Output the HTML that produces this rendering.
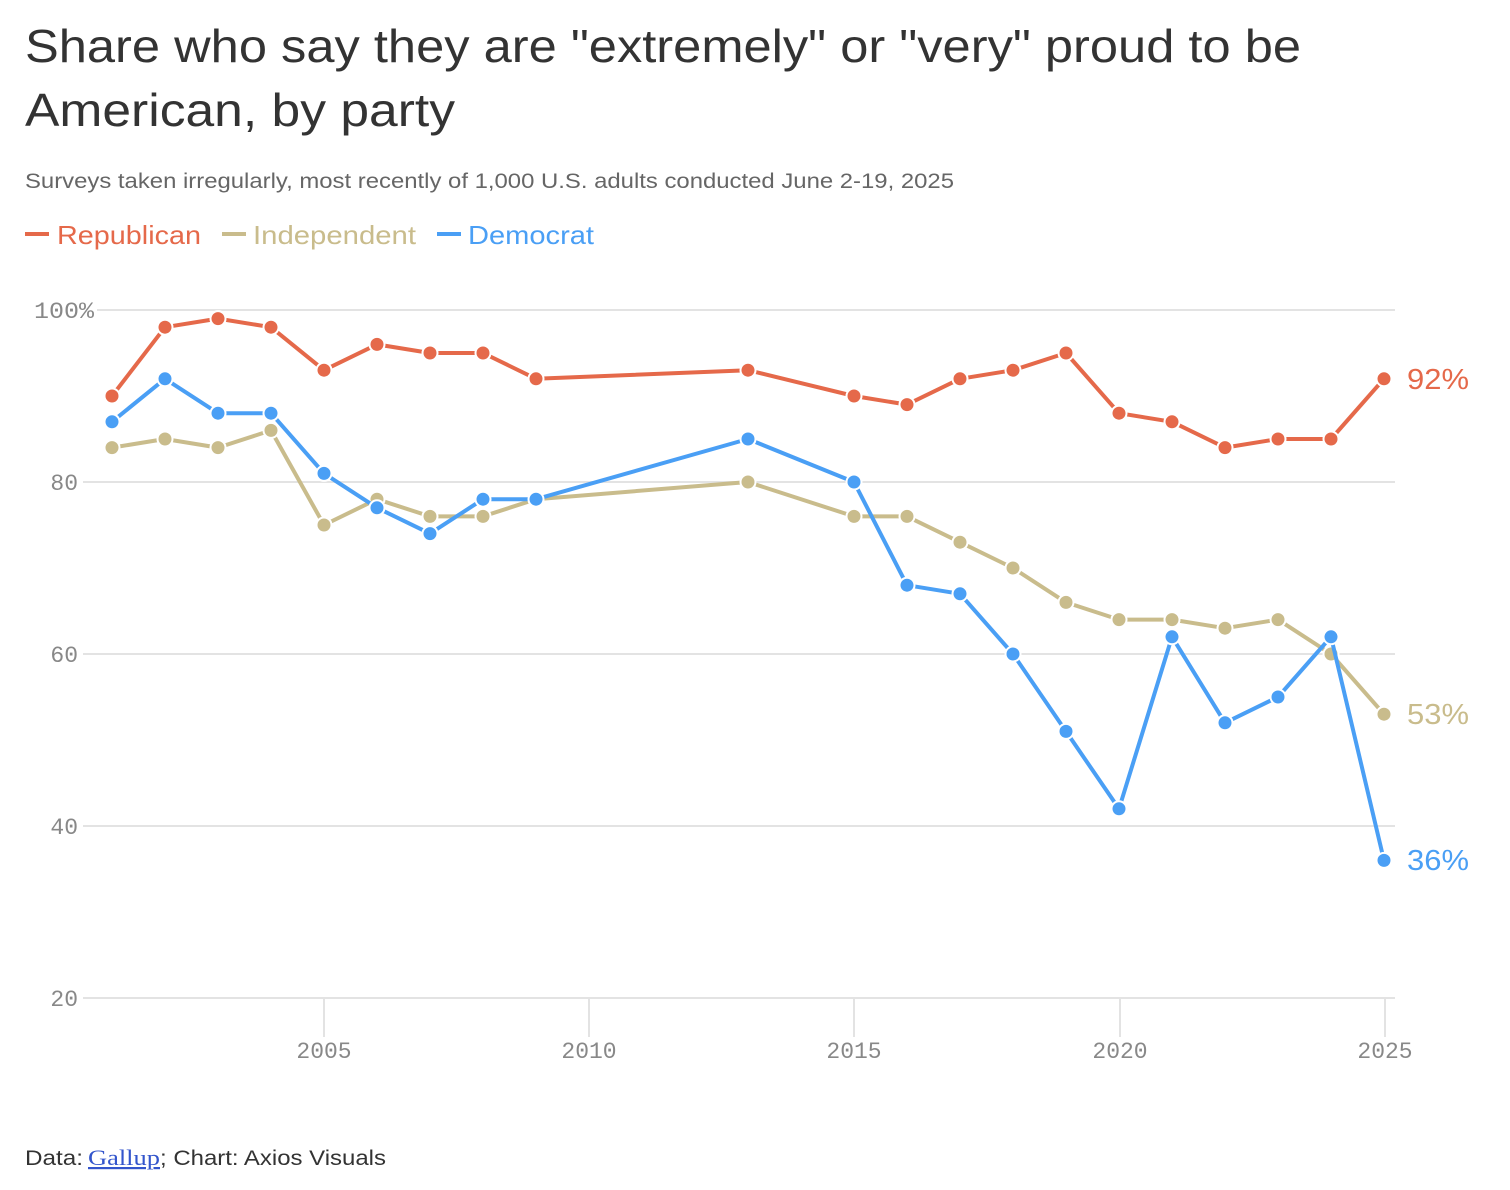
<!DOCTYPE html>
<html><head><meta charset="utf-8"><style>
html,body{margin:0;padding:0;background:#fff;}
svg{display:block;font-family:"Liberation Sans",sans-serif;}
.tk{font-family:"Liberation Mono",monospace;font-size:23px;fill:#888;}
</style></head><body>
<svg width="1510" height="1190" viewBox="0 0 1510 1190">
<text x="25" y="62" font-size="46" fill="#333" textLength="1276" lengthAdjust="spacingAndGlyphs">Share who say they are "extremely" or "very" proud to be</text>
<text x="25" y="126" font-size="46" fill="#333" textLength="430" lengthAdjust="spacingAndGlyphs">American, by party</text>
<text x="25" y="188" font-size="21" fill="#666" textLength="929" lengthAdjust="spacingAndGlyphs">Surveys taken irregularly, most recently of 1,000 U.S. adults conducted June 2-19, 2025</text>
<rect x="25" y="232" width="24" height="4" fill="#e5694a"/>
<text x="57" y="244" font-size="26" fill="#e5694a" textLength="144" lengthAdjust="spacingAndGlyphs">Republican</text>
<rect x="222" y="232" width="24" height="4" fill="#c9bc8c"/>
<text x="253" y="244" font-size="26" fill="#c9bc8c" textLength="163" lengthAdjust="spacingAndGlyphs">Independent</text>
<rect x="437" y="232" width="24" height="4" fill="#4a9ff5"/>
<text x="468" y="244" font-size="26" fill="#4a9ff5" textLength="126" lengthAdjust="spacingAndGlyphs">Democrat</text>

<g stroke="#e3e3e3" stroke-width="2">
<line x1="97" y1="310" x2="1395" y2="310"/>
<line x1="83" y1="482" x2="1395" y2="482"/>
<line x1="83" y1="654" x2="1395" y2="654"/>
<line x1="83" y1="826" x2="1395" y2="826"/>
<line x1="83" y1="998" x2="1395" y2="998"/>
<line x1="324" y1="998" x2="324" y2="1037"/>
<line x1="589" y1="998" x2="589" y2="1037"/>
<line x1="854" y1="998" x2="854" y2="1037"/>
<line x1="1120" y1="998" x2="1120" y2="1037"/>
<line x1="1385" y1="998" x2="1385" y2="1037"/>
</g>
<text class="tk" x="94" y="318" text-anchor="end" textLength="60" lengthAdjust="spacingAndGlyphs">100%</text>
<text class="tk" x="78" y="490" text-anchor="end">80</text>
<text class="tk" x="78" y="662" text-anchor="end">60</text>
<text class="tk" x="78" y="834" text-anchor="end">40</text>
<text class="tk" x="78" y="1006" text-anchor="end">20</text>
<text class="tk" x="324" y="1058" text-anchor="middle">2005</text>
<text class="tk" x="589" y="1058" text-anchor="middle">2010</text>
<text class="tk" x="854" y="1058" text-anchor="middle">2015</text>
<text class="tk" x="1120" y="1058" text-anchor="middle">2020</text>
<text class="tk" x="1385" y="1058" text-anchor="middle">2025</text>

<polyline fill="none" stroke-width="4" stroke-linejoin="round" stroke="#c9bc8c" points="112,447.6 165,439 218,447.6 271,430.4 324,525 377,499.2 430,516.4 483,516.4 536,499.2 748,482 854,516.4 907,516.4 960,542.2 1013,568 1066,602.4 1119,619.6 1172,619.6 1225,628.2 1278,619.6 1331,654 1384,714.2"/>
<g fill="#c9bc8c" stroke="#fff" stroke-width="2">
<circle cx="112" cy="447.6" r="7.5"/><circle cx="165" cy="439" r="7.5"/><circle cx="218" cy="447.6" r="7.5"/><circle cx="271" cy="430.4" r="7.5"/><circle cx="324" cy="525" r="7.5"/><circle cx="377" cy="499.2" r="7.5"/><circle cx="430" cy="516.4" r="7.5"/><circle cx="483" cy="516.4" r="7.5"/><circle cx="536" cy="499.2" r="7.5"/><circle cx="748" cy="482" r="7.5"/><circle cx="854" cy="516.4" r="7.5"/><circle cx="907" cy="516.4" r="7.5"/><circle cx="960" cy="542.2" r="7.5"/><circle cx="1013" cy="568" r="7.5"/><circle cx="1066" cy="602.4" r="7.5"/><circle cx="1119" cy="619.6" r="7.5"/><circle cx="1172" cy="619.6" r="7.5"/><circle cx="1225" cy="628.2" r="7.5"/><circle cx="1278" cy="619.6" r="7.5"/><circle cx="1331" cy="654" r="7.5"/><circle cx="1384" cy="714.2" r="7.5"/>
</g>
<polyline fill="none" stroke-width="4" stroke-linejoin="round" stroke="#4a9ff5" points="112,421.8 165,378.8 218,413.2 271,413.2 324,473.4 377,507.8 430,533.6 483,499.2 536,499.2 748,439 854,482 907,585.2 960,593.8 1013,654 1066,731.4 1119,808.8 1172,636.8 1225,722.8 1278,697 1331,636.8 1384,860.4"/>
<g fill="#4a9ff5" stroke="#fff" stroke-width="2">
<circle cx="112" cy="421.8" r="7.5"/><circle cx="165" cy="378.8" r="7.5"/><circle cx="218" cy="413.2" r="7.5"/><circle cx="271" cy="413.2" r="7.5"/><circle cx="324" cy="473.4" r="7.5"/><circle cx="377" cy="507.8" r="7.5"/><circle cx="430" cy="533.6" r="7.5"/><circle cx="483" cy="499.2" r="7.5"/><circle cx="536" cy="499.2" r="7.5"/><circle cx="748" cy="439" r="7.5"/><circle cx="854" cy="482" r="7.5"/><circle cx="907" cy="585.2" r="7.5"/><circle cx="960" cy="593.8" r="7.5"/><circle cx="1013" cy="654" r="7.5"/><circle cx="1066" cy="731.4" r="7.5"/><circle cx="1119" cy="808.8" r="7.5"/><circle cx="1172" cy="636.8" r="7.5"/><circle cx="1225" cy="722.8" r="7.5"/><circle cx="1278" cy="697" r="7.5"/><circle cx="1331" cy="636.8" r="7.5"/><circle cx="1384" cy="860.4" r="7.5"/>
</g>
<polyline fill="none" stroke-width="4" stroke-linejoin="round" stroke="#e5694a" points="112,396 165,327.2 218,318.6 271,327.2 324,370.2 377,344.4 430,353 483,353 536,378.8 748,370.2 854,396 907,404.6 960,378.8 1013,370.2 1066,353 1119,413.2 1172,421.8 1225,447.6 1278,439 1331,439 1384,378.8"/>
<g fill="#e5694a" stroke="#fff" stroke-width="2">
<circle cx="112" cy="396" r="7.5"/><circle cx="165" cy="327.2" r="7.5"/><circle cx="218" cy="318.6" r="7.5"/><circle cx="271" cy="327.2" r="7.5"/><circle cx="324" cy="370.2" r="7.5"/><circle cx="377" cy="344.4" r="7.5"/><circle cx="430" cy="353" r="7.5"/><circle cx="483" cy="353" r="7.5"/><circle cx="536" cy="378.8" r="7.5"/><circle cx="748" cy="370.2" r="7.5"/><circle cx="854" cy="396" r="7.5"/><circle cx="907" cy="404.6" r="7.5"/><circle cx="960" cy="378.8" r="7.5"/><circle cx="1013" cy="370.2" r="7.5"/><circle cx="1066" cy="353" r="7.5"/><circle cx="1119" cy="413.2" r="7.5"/><circle cx="1172" cy="421.8" r="7.5"/><circle cx="1225" cy="447.6" r="7.5"/><circle cx="1278" cy="439" r="7.5"/><circle cx="1331" cy="439" r="7.5"/><circle cx="1384" cy="378.8" r="7.5"/>
</g>
<text x="1407" y="389" font-size="29" fill="#e5694a" textLength="62" lengthAdjust="spacingAndGlyphs">92%</text>
<text x="1407" y="724" font-size="29" fill="#c9bc8c" textLength="62" lengthAdjust="spacingAndGlyphs">53%</text>
<text x="1407" y="870" font-size="29" fill="#4a9ff5" textLength="62" lengthAdjust="spacingAndGlyphs">36%</text>

<text x="25" y="1165" font-size="21" fill="#333" textLength="58" lengthAdjust="spacingAndGlyphs">Data:</text>
<text x="88" y="1165" font-size="22" fill="#3355cc" font-family="Liberation Serif" text-decoration="underline" textLength="72" lengthAdjust="spacingAndGlyphs">Gallup</text>
<text x="160" y="1165" font-size="21" fill="#333" textLength="226" lengthAdjust="spacingAndGlyphs">; Chart: Axios Visuals</text>
</svg>
</body></html>
